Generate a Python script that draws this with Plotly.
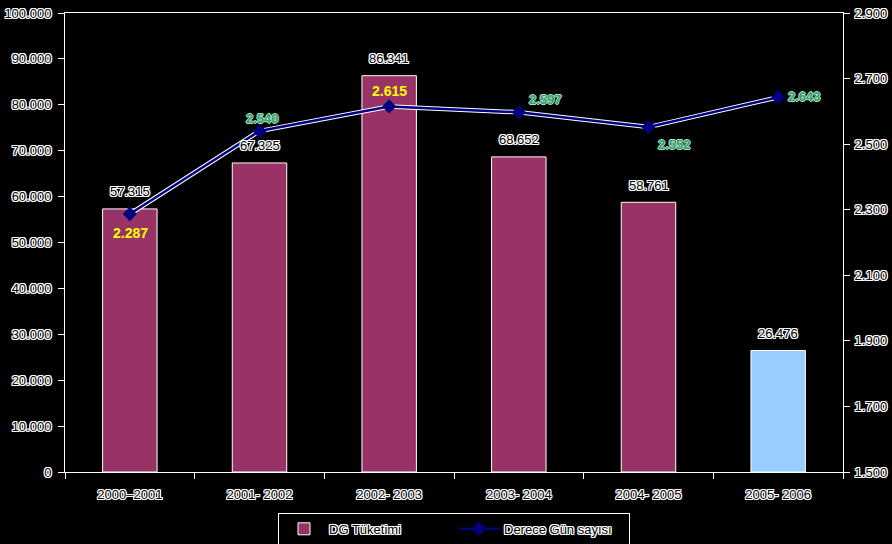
import plotly.graph_objects as go

categories = ["2000–2001", "2001- 2002", "2002- 2003", "2003- 2004", "2004- 2005", "2005- 2006"]
consumption = [57315, 67325, 86341, 68652, 58761, 26476]
degree_days = [2287, 2540, 2615, 2597, 2552, 2643]
dd_labels = ["2.287", "2.540", "2.615", "2.597", "2.552", "2.643"]
cons_labels = ["57.315", "67.325", "86.341", "68.652", "58.761", "26.476"]
left_ticks = [0, 10000, 20000, 30000, 40000, 50000, 60000, 70000, 80000, 90000, 100000]
right_ticks = [1500, 1700, 1900, 2100, 2300, 2500, 2700, 2900]

FONT = "Liberation Sans, Arial, sans-serif"
OUTLINE = "1px 0 0 #fff, -1px 0 0 #fff, 0 1px 0 #fff, 0 -1px 0 #fff, 1px 1px 0 #fff, -1px -1px 0 #fff, 1px -1px 0 #fff, -1px 1px 0 #fff"
GOUT = "1px 0 0 #a8e6c6, -1px 0 0 #a8e6c6, 0 1px 0 #a8e6c6, 0 -1px 0 #a8e6c6"

bar_colors = ["#993366"] * 5 + ["#99CCFF"]

fig = go.Figure()
fig.add_trace(go.Bar(
    x=categories, y=consumption, name="DG Tüketimi",
    marker=dict(color=bar_colors, line=dict(color="#ffffff", width=1)),
    yaxis="y",
))
fig.add_trace(go.Scatter(
    x=categories, y=degree_days, mode="lines", yaxis="y2",
    line=dict(color="#ffffff", width=4.5), showlegend=False, hoverinfo="skip",
))
fig.add_trace(go.Scatter(
    x=categories, y=degree_days, mode="lines+markers", yaxis="y2",
    name="Derece Gün sayısı",
    line=dict(color="#000080", width=2.5),
    marker=dict(symbol="diamond", size=11, color="#000080", line=dict(color="#000080", width=0)),
))

# bar value labels
for c, v, t in zip(categories, consumption, cons_labels):
    fig.add_annotation(x=c, y=v, xref="x", yref="y", text=t, showarrow=False, yshift=17,
                       font=dict(family=FONT, size=13, color="#000000", shadow=OUTLINE))

# degree-day label offsets (pixels) relative to each point
label_shift = [(1, -19), (3, 13), (0, 15), (27, 13), (26, -17), (26, 1)]
yellow = [True, False, True, False, False, False]
for i, (c, v, t) in enumerate(zip(categories, degree_days, dd_labels)):
    if yellow[i]:
        f = dict(family=FONT, size=14, color="#FFFF00", weight="bold")
    else:
        f = dict(family=FONT, size=13, color="#3a9a6a", weight="bold", shadow=GOUT)
    fig.add_annotation(x=c, y=v, xref="x", yref="y2", text=t, showarrow=False,
                       xshift=label_shift[i][0], yshift=label_shift[i][1], font=f)

tickfont = dict(family=FONT, size=13, color="#000000", shadow=OUTLINE)
fig.update_layout(
    width=892, height=544,
    margin=dict(l=65, r=49, t=13, b=72, autoexpand=False),
    paper_bgcolor="#000000", plot_bgcolor="#000000",
    separators=",.",
    bargap=0.58,
    showlegend=True,
    legend=dict(orientation="h", x=0.5, xanchor="center", y=-0.089, yanchor="top",
                bgcolor="#000000", bordercolor="#ffffff", borderwidth=1,
                font=dict(family=FONT, size=13, color="#000000", shadow=OUTLINE),
                itemwidth=40, entrywidth=120),
    xaxis=dict(type="category", showline=True, linecolor="#ffffff", linewidth=1, mirror=True,
               ticks="outside", tickson="boundaries", tickcolor="#ffffff", ticklen=6,
               ticklabelstandoff=10,
               tickfont=tickfont, showgrid=False, zeroline=False, automargin=False),
    yaxis=dict(range=[0, 100000], tickvals=left_ticks, tickformat=",d",
               showline=True, linecolor="#ffffff", linewidth=1,
               ticks="outside", tickcolor="#ffffff", ticklen=6, ticklabelstandoff=4,
               tickfont=tickfont, showgrid=False, zeroline=False, automargin=False),
    yaxis2=dict(range=[1500, 2900], tickvals=right_ticks, tickformat=",d", overlaying="y", side="right",
                showline=True, linecolor="#ffffff", linewidth=1,
                ticks="outside", tickcolor="#ffffff", ticklen=6, ticklabelstandoff=2,
                tickfont=tickfont, showgrid=False, zeroline=False, automargin=False),
)
fig.write_html("out.html")
